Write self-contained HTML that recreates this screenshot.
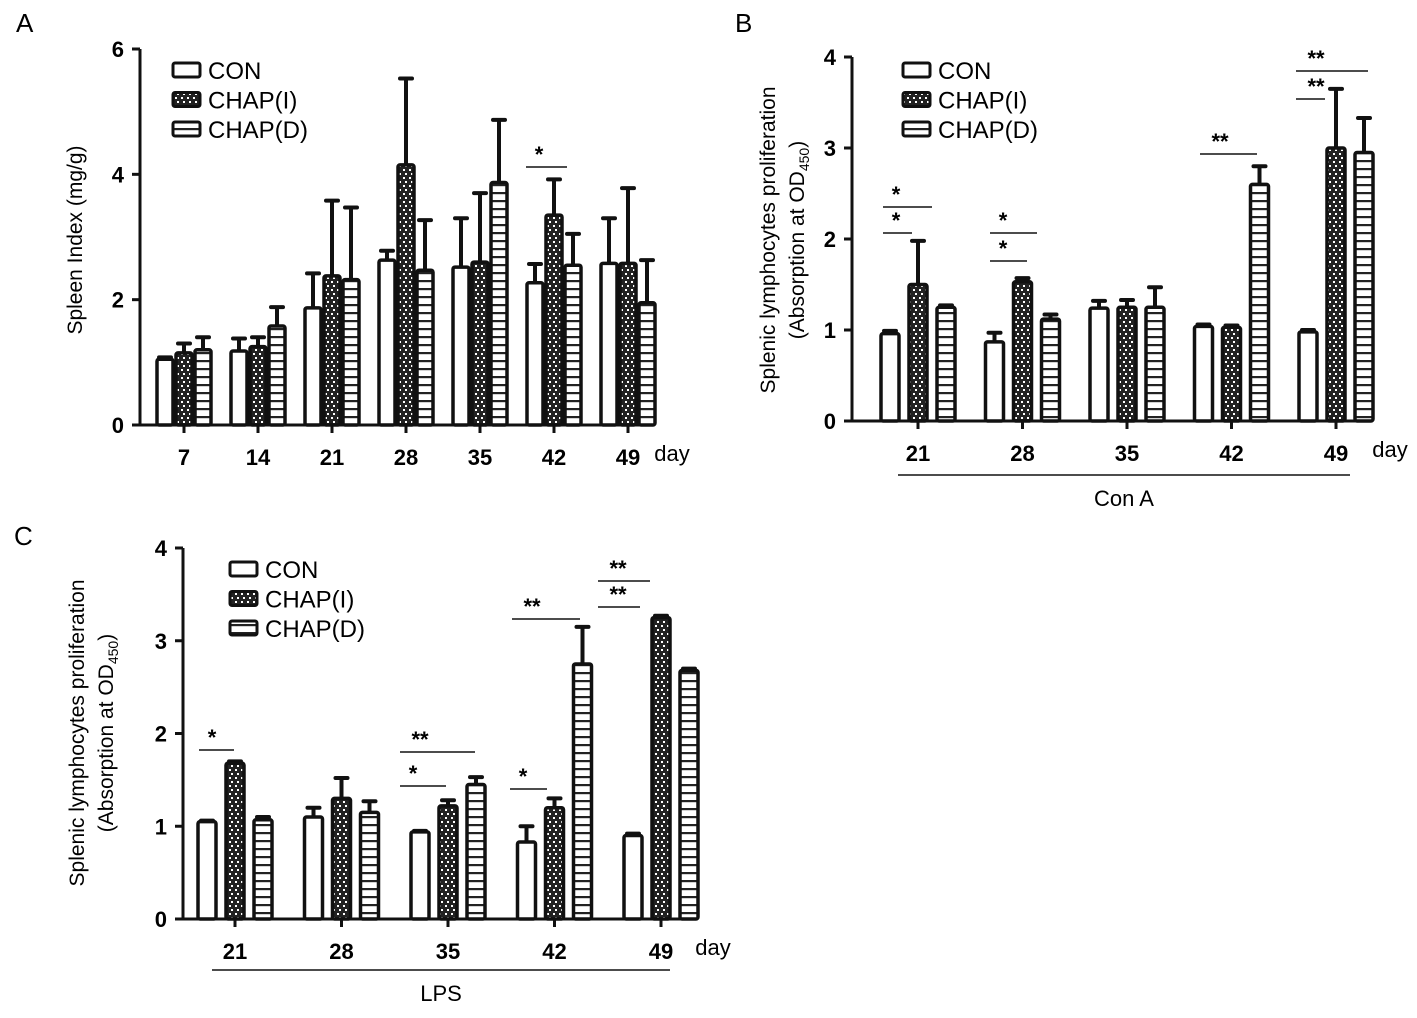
<!DOCTYPE html>
<html><head><meta charset="utf-8"><style>
body{margin:0;background:#fff}
svg text{font-family:"Liberation Sans",sans-serif}
</style></head><body>
<svg id="s" width="1417" height="1013" viewBox="0 0 1417 1013" xmlns="http://www.w3.org/2000/svg">
<defs>
<pattern id="pI" width="6" height="8" patternUnits="userSpaceOnUse"><rect width="6" height="8" fill="#222"/><rect x="1" y="1" width="2" height="2" fill="#fff"/><rect x="3" y="5" width="2" height="2" fill="#fff"/></pattern>
<pattern id="pD" width="10" height="8" patternUnits="userSpaceOnUse"><rect width="10" height="8" fill="#fff"/><rect y="0" width="10" height="2.2" fill="#222"/></pattern>
</defs>
</svg>
<script>
// Panel A data
const aCats=['7','14','21','28','35','42','49'];
const aCON=[1.05,1.18,1.87,2.63,2.52,2.27,2.58];
const aCONe=[0.03,0.2,0.55,0.15,0.78,0.3,0.72];
const aI=[1.15,1.25,2.38,4.15,2.6,3.35,2.58];
const aIe=[0.15,0.15,1.2,1.38,1.1,0.57,1.2];
const aD=[1.2,1.58,2.32,2.47,3.87,2.55,1.95];
const aDe=[0.2,0.3,1.15,0.8,1.0,0.5,0.68];
const aTicks=[0,2,4,6];
// Panel B data
const bCats=['21','28','35','42','49'];
const bCON=[0.96,0.87,1.24,1.04,0.98];
const bCONe=[0.03,0.1,0.08,0.02,0.02];
const bI=[1.5,1.53,1.25,1.03,3.0];
const bIe=[0.48,0.04,0.08,0.02,0.65];
const bD=[1.25,1.12,1.25,2.6,2.95];
const bDe=[0.02,0.05,0.22,0.2,0.38];
const bTicks=[0,1,2,3,4];
// Panel C data
const cCats=['21','28','35','42','49'];
const cCON=[1.05,1.1,0.94,0.83,0.9];
const cCONe=[0.01,0.1,0.01,0.17,0.02];
const cI=[1.68,1.3,1.22,1.2,3.25];
const cIe=[0.02,0.22,0.06,0.1,0.02];
const cD=[1.07,1.15,1.45,2.75,2.68];
const cDe=[0.03,0.12,0.08,0.4,0.02];
const cTicks=[0,1,2,3,4];

const S=document.getElementById('s');
const NS='http://www.w3.org/2000/svg';
function el(t,a,txt,p){const e=document.createElementNS(NS,t);for(const k in a)e.setAttribute(k,a[k]);if(txt!=null)e.textContent=txt;(p||S).appendChild(e);return e;}
function txt(x,y,s,size,opts,name){const e=el('text',Object.assign({x:x,y:y,'font-size':size,'text-anchor':'middle'},opts||{}),s);


return e;}

function panel(P){
  const g=el('g',{});
  
  
  const y=v=>P.y0-(v/P.ymax)*(P.y0-P.y1);
  const x=i=>P.x0c+i*P.step;
  // bars
  const series=[[P.con,P.cone,'#fff','con'],[P.i,P.ie,'url(#pI)','chap-i'],[P.d,P.de,'url(#pD)','chap-d']];
  series.forEach((s,si)=>{
    s[0].forEach((v,i)=>{
      const cx=x(i)+(si-1)*P.bs;
      const top=y(v+s[1][i]);
      const l=el('line',{x1:cx,x2:cx,y1:y(v),y2:top,stroke:'#111','stroke-width':4},null,g);
      
      
      const c=el('line',{x1:cx-6,x2:cx+6,y1:top,y2:top,stroke:'#111','stroke-width':4,'stroke-linecap':'round'},null,g);
      
      
      const r=el('rect',{x:cx-P.bw/2,y:y(v),width:P.bw,height:P.y0-y(v),fill:s[2],stroke:'#111','stroke-width':3.5,rx:2},null,g);
      
      
    });
  });
  // axes
  const ya=el('line',{x1:P.xa,x2:P.xa,y1:P.y0,y2:P.y1,stroke:'#111','stroke-width':3},null,g);
  
  
  const xa=el('line',{x1:P.xa,x2:P.xend,y1:P.y0,y2:P.y0,stroke:'#111','stroke-width':3},null,g);
  
  
  P.ticks.forEach(t=>{
    const tl=el('line',{x1:P.xa-8,x2:P.xa,y1:y(t),y2:y(t),stroke:'#111','stroke-width':3},null,g);
    
    
    txt(P.xa-16,y(t)+8,String(t),22,{'text-anchor':'end','font-weight':'bold'},'y-tick-label');
  });
  P.cats.forEach((c,i)=>{
    const tl=el('line',{x1:x(i),x2:x(i),y1:P.y0,y2:P.y0+8,stroke:'#111','stroke-width':3},null,g);
    
    
    txt(x(i),P.y0+40,c,22,{'font-weight':'bold'},'x-tick-label');
  });
  txt(P.dayx,P.y0+36,'day',22,{},'x-axis-unit');
  // legend
  [['CON','#fff'],['CHAP(I)','url(#pI)'],['CHAP(D)','url(#pD)']].forEach((L,k)=>{
    const ly=P.ly+k*29.5;
    const r=el('rect',{x:P.lx,y:ly-7,width:27,height:14,fill:L[1],stroke:'#111','stroke-width':3,rx:2},null,g);
    
    
    txt(P.lx+35,ly+9,L[0],24,{'text-anchor':'start'},'legend-entry');
  });
  // significance
  (P.sig||[]).forEach(s=>{
    const l=el('line',{x1:s[0],x2:s[1],y1:s[2],y2:s[2],stroke:'#111','stroke-width':1.6},null,g);
    
    
    txt(s[0]+(s[3].length>1?20:13),s[2]-5,s[3],22,{'font-weight':'bold'},'significance-mark');
  });
  if(P.group){
    const l=el('line',{x1:P.group[0],x2:P.group[1],y1:P.group[2],y2:P.group[2],stroke:'#111','stroke-width':1.6},null,g);
    
    
    txt((P.group[0]+P.group[1])/2,P.group[2]+31,P.group[3],22,{},'group-label');
  }
}

panel({name:'panel-a',cats:aCats,con:aCON,cone:aCONe,i:aI,ie:aIe,d:aD,de:aDe,ticks:aTicks,ymax:6,
 y0:425,y1:49,xa:140,xend:652,x0c:184,step:74,bs:19,bw:16,dayx:672,lx:173,ly:70,
 sig:[[526,567,167,'*']]});
panel({name:'panel-b',cats:bCats,con:bCON,cone:bCONe,i:bI,ie:bIe,d:bD,de:bDe,ticks:bTicks,ymax:4,
 y0:421,y1:57,xa:852,xend:1362,x0c:918,step:104.5,bs:28,bw:18,dayx:1390,lx:903,ly:70,
 sig:[[883,932,207,'*'],[883,912,233,'*'],[990,1037,233,'*'],[990,1027,261,'*'],[1200,1257,154,'**'],[1296,1368,71,'**'],[1296,1325,99,'**']],
 group:[898,1350,475,'Con A']});
panel({name:'panel-c',cats:cCats,con:cCON,cone:cCONe,i:cI,ie:cIe,d:cD,de:cDe,ticks:cTicks,ymax:4,
 y0:919,y1:548,xa:183,xend:686,x0c:235,step:106.5,bs:28,bw:18,dayx:713,lx:230,ly:569,
 sig:[[199,234,750,'*'],[400,475,752,'**'],[400,446,786,'*'],[512,580,619,'**'],[510,547,789,'*'],[598,650,581,'**'],[598,640,607,'**']],
 group:[212,670,970,'LPS']});

// titles
txt(16,32,'A',26,{'text-anchor':'start'},'panel-label-a');
txt(735,32,'B',26,{'text-anchor':'start'},'panel-label-b');
txt(14,545,'C',26,{'text-anchor':'start'},'panel-label-c');
txt(0,0,'Spleen Index (mg/g)',21,{transform:'translate(82,240) rotate(-90)'},'y-axis-title-a');
txt(0,0,'Splenic lymphocytes proliferation',21,{transform:'translate(775,240) rotate(-90)'},'y-axis-title-b');
const b2=txt(0,0,'(Absorption at OD',21,{transform:'translate(804,240) rotate(-90)'},'y-axis-subtitle-b');
el('tspan',{'font-size':14,dy:5},'450',b2);el('tspan',{dy:-5},')',b2);
txt(0,0,'Splenic lymphocytes proliferation',21,{transform:'translate(84,733) rotate(-90)'},'y-axis-title-c');
const c2=txt(0,0,'(Absorption at OD',21,{transform:'translate(113,733) rotate(-90)'},'y-axis-subtitle-c');
el('tspan',{'font-size':14,dy:5},'450',c2);el('tspan',{dy:-5},')',c2);
</script>
</body></html>
